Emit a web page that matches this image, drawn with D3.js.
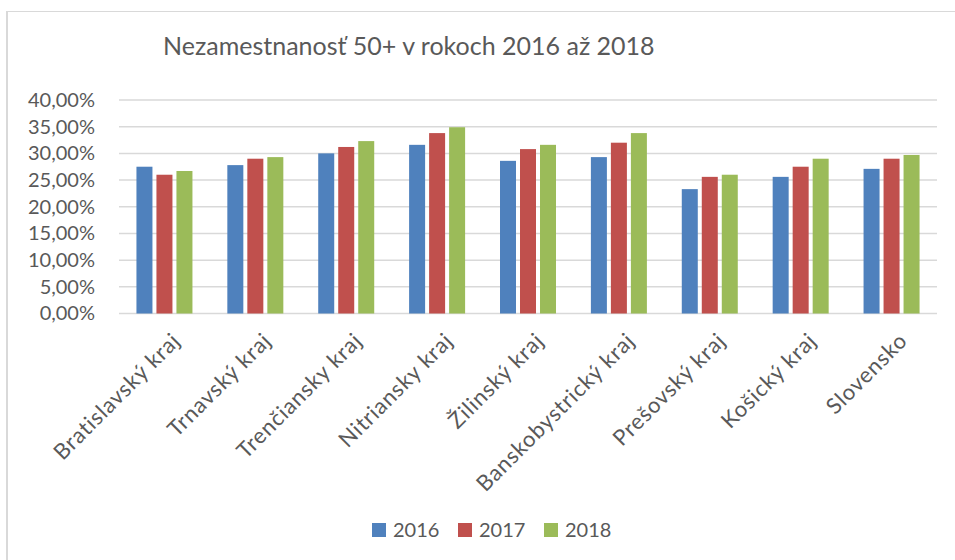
<!DOCTYPE html>
<html>
<head>
<meta charset="utf-8">
<script src="https://cdn.jsdelivr.net/npm/d3@7"></script>
<style>
  body { margin: 0; background: #fff; }
  text { font-family: Lato, "Open Sans", sans-serif; fill: #595959; }
</style>
</head>
<body>
<div id="chart"></div>
<script>
// chart data
const REGIONS = ["Bratislavský kraj", "Trnavský kraj", "Trenčiansky kraj", "Nitriansky kraj",
  "Žilinský kraj", "Banskobystrický kraj", "Prešovský kraj", "Košický kraj", "Slovensko"];
const YEARS = ["2016", "2017", "2018"];
const V2016 = [27.5, 27.8, 30.0, 31.6, 28.6, 29.3, 23.3, 25.6, 27.1];
const V2017 = [26.0, 29.0, 31.2, 33.8, 30.8, 32.0, 25.6, 27.5, 29.0];
const V2018 = [26.7, 29.3, 32.3, 34.9, 31.6, 33.8, 26.0, 29.0, 29.7];
const Y_TICKS = [0, 5, 10, 15, 20, 25, 30, 35, 40];
const TITLE = "Nezamestnanosť 50+ v rokoch 2016 až 2018";

const COLORS = ["#4f81bd", "#c0504d", "#9bbb59"];
const SERIES = [V2016, V2017, V2018];

// frame
const FRAME_WIDTH = 955;
const FRAME_HEIGHT = 560;
const PLOT = {left: 119, right: 937, top: 100, bottom: 313.5};

const svg = d3.select("#chart")
  .append("svg")
    .attr("width", FRAME_WIDTH)
    .attr("height", FRAME_HEIGHT);

// outer chart border (only left + top visible)
svg.append("line")
  .attr("x1", 7).attr("x2", 7).attr("y1", 11).attr("y2", FRAME_HEIGHT)
  .attr("stroke", "#d9d9d9").attr("stroke-width", 2);
svg.append("line")
  .attr("x1", 7).attr("x2", FRAME_WIDTH).attr("y1", 11.5).attr("y2", 11.5)
  .attr("stroke", "#d9d9d9").attr("stroke-width", 1);

// title
svg.append("text")
  .attr("x", 163)
  .attr("y", 55)
  .style("font-size", "25px")
  .text(TITLE);

// scales
const x = d3.scaleBand()
  .domain(REGIONS)
  .range([PLOT.left, PLOT.right]);

const xSub = d3.scaleBand()
  .domain(YEARS)
  .range([-28, 28])
  .paddingInner(0.2);

const y = d3.scaleLinear()
  .domain([0, 40])
  .range([PLOT.bottom, PLOT.top]);

// gridlines
svg.append("g")
  .selectAll("line")
  .data(Y_TICKS)
  .enter()
  .append("line")
    .attr("x1", PLOT.left)
    .attr("x2", PLOT.right)
    .attr("y1", d => y(d))
    .attr("y2", d => y(d))
    .attr("stroke", "#d9d9d9")
    .attr("stroke-width", 1.5);

// y axis labels
const yAxis = svg.append("g")
  .attr("transform", "translate(" + (PLOT.left - 24) + ",0)")
  .call(d3.axisLeft(y).tickValues(Y_TICKS).tickSize(0).tickPadding(0)
    .tickFormat(d => d3.format(".2f")(d).replace(".", ",") + "%"));
yAxis.select(".domain").remove();
yAxis.selectAll("text")
  .style("font-family", "Lato, sans-serif")
  .style("font-size", "20px")
  .attr("fill", "#595959");

// bars
SERIES.forEach((vals, i) => {
  svg.append("g")
    .selectAll("rect")
    .data(vals)
    .enter()
    .append("rect")
      .attr("x", (d, j) => x(REGIONS[j]) + x.bandwidth() / 2 + xSub(YEARS[i]))
      .attr("y", d => y(d))
      .attr("width", xSub.bandwidth())
      .attr("height", d => y(0) - y(d))
      .attr("fill", COLORS[i]);
});

// x labels, rotated
svg.append("g")
  .selectAll("text")
  .data(REGIONS)
  .enter()
  .append("text")
    .attr("transform", d => "translate(" + (x(d) + x.bandwidth() / 2 + 6) + ",331) rotate(-45)")
    .attr("text-anchor", "end")
    .attr("dy", "0.72em")
    .style("font-size", "22px")
    .style("letter-spacing", "0.8px")
    .text(d => d);

// legend
const legendX = [372, 458, 544];
const legend = svg.append("g")
  .selectAll("g")
  .data(YEARS)
  .enter()
  .append("g")
    .attr("transform", (d, i) => "translate(" + legendX[i] + ",523)");
legend.append("rect")
  .attr("width", 14)
  .attr("height", 14)
  .attr("fill", (d, i) => COLORS[i]);
legend.append("text")
  .attr("x", 21)
  .attr("y", 14)
  .style("font-size", "20px")
  .text(d => d);
</script>
</body>
</html>
